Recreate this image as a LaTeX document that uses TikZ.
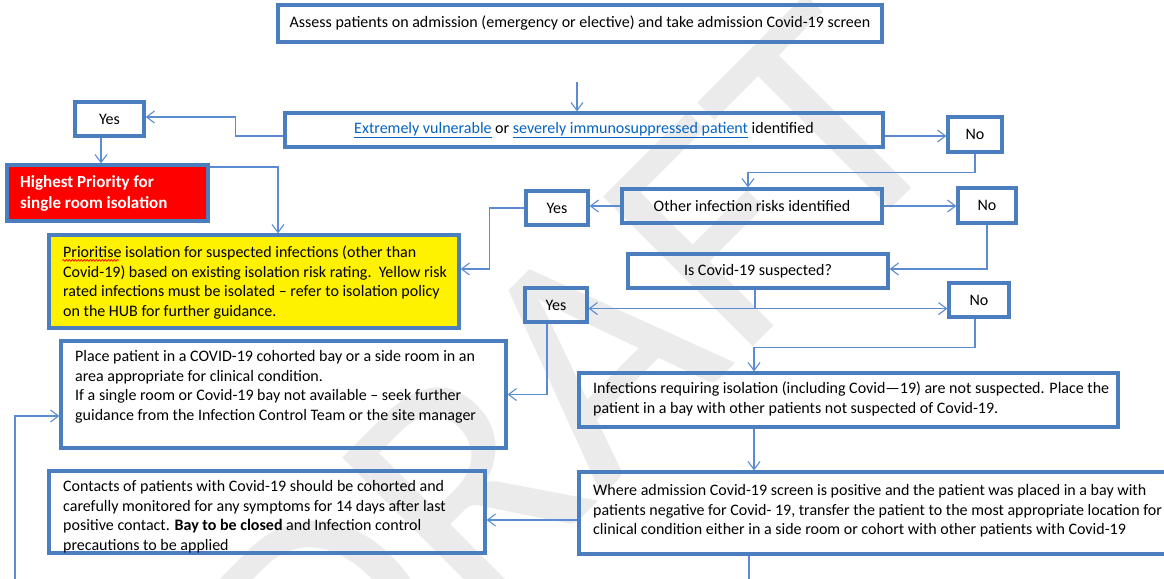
\documentclass[tikz,border=0pt]{standalone}
\usepackage{fontspec}
\setmainfont{Carlito}
\usetikzlibrary{arrows.meta,decorations.pathmorphing}

\definecolor{boxblue}{HTML}{4A7EBF}
\definecolor{lineblue}{HTML}{5B8CD2}
\definecolor{linkblue}{HTML}{0563C1}
\definecolor{markgray}{HTML}{EBEBEB}

\newcommand\weblink[1]{\textcolor{linkblue}{\underline{#1}}}

\begin{document}
\begin{tikzpicture}[x=1pt,y=-1pt,
  font=\fontsize{16}{19.5}\selectfont,
  box/.style={draw=boxblue, line width=3.2pt, inner sep=0pt, rectangle},
  txt/.style={inner sep=0pt, anchor=north west, align=left},
  wire/.style={draw=lineblue, line width=1.1pt},
  conn/.style={wire, -{Straight Barb[length=8pt,width=12pt]}},
]
\useasboundingbox (0,0) rectangle (1164,578);
\clip (0,0) rectangle (1164,578);
\fill[white] (0,0) rectangle (1164,578);

% watermark
\node[rotate=45, text=markgray, font=\fontsize{330}{330}\selectfont] (wm) at (570,380) {DRAFT};

% boxes
\node[box, minimum width=604pt, minimum height=37pt] (assess) at (580,23.5)
  {Assess patients on admission (emergency or elective) and take admission Covid-19 screen};
\node[box, minimum width=598pt, minimum height=34pt] (vuln) at (584,130)
  {\weblink{Extremely vulnerable} or \weblink{severely immunosuppressed patient} identified};
\node[box, minimum width=69pt, minimum height=34pt] (yes1) at (109.5,119) {Yes};
\node[box, minimum width=54pt, minimum height=35pt] (no1) at (975,134.5) {No};

\node[box, fill=red, minimum width=201pt, minimum height=56pt] (prio) at (107.5,193) {};
\node[txt, text=white, font=\bfseries\fontsize{17}{21}\selectfont] (priotxt) at (20,173)
  {\strut Highest Priority for\\single room isolation};

\node[box, fill=yellow, minimum width=410pt, minimum height=93pt] (iso) at (254,281.5) {};
\node[txt] (isotxt) at (63,244)
  {\strut Prioritise isolation for suspected infections (other than\\
   Covid-19) based on existing isolation risk rating.\ \ Yellow risk\\
   rated infections must be isolated – refer to isolation policy\\
   on the HUB for further guidance.};
\draw[red, line width=0.7pt, decorate, decoration={snake, amplitude=0.9pt, segment length=3pt}]
  ([shift={(15,27)}]iso.north west) -- ([shift={(71,27)}]iso.north west);

\node[box, minimum width=260pt, minimum height=34pt] (other) at (752,206) {Other infection risks identified};
\node[box, minimum width=62pt, minimum height=34pt] (yes2) at (557,208) {Yes};
\node[box, minimum width=58pt, minimum height=35pt] (no2) at (987,205.5) {No};

\node[box, minimum width=260pt, minimum height=34pt] (covid) at (758,271) {Is Covid-19 suspected?};
\node[box, minimum width=62pt, minimum height=34pt] (yes3) at (556,305) {Yes};
\node[box, minimum width=60pt, minimum height=34pt] (no3) at (979,300) {No};

\node[box, minimum width=445pt, minimum height=107pt] (place) at (283.5,394.5) {};
\node[txt] (placetxt) at (75,348)
  {\strut Place patient in a COVID-19 cohorted bay or a side room in an\\
   area appropriate for clinical condition.\\
   If a single room or Covid-19 bay not available – seek further\\
   guidance from the Infection Control Team or the site manager};

\node[box, minimum width=539pt, minimum height=54pt] (infect) at (848.5,400) {};
\node[txt] (infecttxt) at (593,380)
  {\strut Infections requiring isolation (including Covid—19) are not suspected. Place the\\
   patient in a bay with other patients not suspected of Covid-19.};

\node[box, minimum width=436pt, minimum height=82pt] (contacts) at (267,512) {};
\node[txt] (contactstxt) at (63,478)
  {\strut Contacts of patients with Covid-19 should be cohorted and\\
   carefully monitored for any symptoms for 14 days after last\\
   positive contact. \textbf{Bay to be closed} and Infection control\\
   precautions to be applied};

\node[box, minimum width=596pt, minimum height=82pt] (where) at (877,513) {};
\node[txt] (wheretxt) at (593,482)
  {\strut Where admission Covid-19 screen is positive and the patient was placed in a bay with\\
   patients negative for Covid- 19, transfer the patient to the most appropriate location for\\
   clinical condition either in a side room or cohort with other patients with Covid-19};

% connector anchors
\coordinate (feed) at (577,82);
\coordinate (v1) at ([yshift=-6pt]vuln.west);
\coordinate (y1in) at ([yshift=2pt]yes1.east);
\coordinate (y1) at ([xshift=-8.5pt]yes1.south);
\coordinate (p1) at ([yshift=26pt]prio.east);
\coordinate (p2) at ([xshift=24pt]iso.north);
\coordinate (v2) at ([yshift=-6pt]vuln.east);
\coordinate (o1) at ([xshift=-4pt]other.north);
\coordinate (i2) at ([yshift=12.5pt]iso.east);
\coordinate (c1) at ([yshift=2pt]covid.east);
\coordinate (cs) at ([xshift=-3pt]covid.south);
\coordinate (y3) at ([xshift=-9pt]yes3.south);
\coordinate (n3) at ([xshift=-4pt]no3.south);
\coordinate (i3) at ([xshift=-94.5pt]infect.north);
\coordinate (i4) at ([xshift=-94.5pt]infect.south);
\coordinate (w1) at ([yshift=-7pt]where.west);
\coordinate (w2) at ([xshift=-128pt]where.south);
\coordinate (bottomedge) at (0,590);
\coordinate (loopin) at (15,590);
\coordinate (pl) at ([yshift=-21.5pt]place.west);

% connectors
\draw[conn] (feed) -- (feed |- vuln.north);
\draw[conn] (v1) -- ++(-48,0) |- (y1in);
\draw[conn] (y1) -- (y1 |- prio.north);
\draw[conn] (p1) -| (p2);
\draw[conn] (v2) -- (v2 -| no1.west);
\draw[conn] (no1.south) -- ++(0,19) -| (o1);
\draw[conn] (other.west) -- (other.west -| yes2.east);
\draw[conn] (yes2.west) -- ++(-35,0) |- (i2);
\draw[conn] (other.east) -- (other.east -| no2.west);
\draw[conn] (no2.south) |- (c1);
\draw[wire] (cs) -- ++(0,19) coordinate (split);
\draw[conn] (split) -- (split -| yes3.east);
\draw[conn] (split) -- (split -| no3.west);
\draw[conn] (y3) |- (place.east);
\draw[conn] (n3) -- ++(0,29) -| (i3);
\draw[conn] (i4) -- (i4 |- where.north);
\draw[conn] (w1) -- (w1 -| contacts.east);
\draw[wire] (w2) -- (w2 |- bottomedge);
\draw[conn] (loopin) |- (pl);
\end{tikzpicture}
\end{document}
